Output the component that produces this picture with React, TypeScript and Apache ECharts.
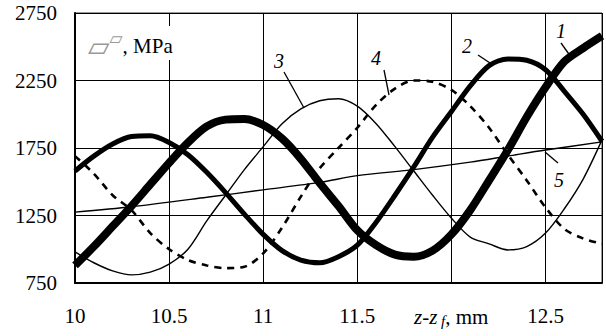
import React, { useEffect, useRef } from "react";
import * as echarts from "echarts";

const xTicksHidden = [12, 12.8];
const curve1: [number, number][] = [
  [10, 880], [10.1, 1020], [10.2, 1170], [10.3, 1320], [10.4, 1480], [10.5, 1640], [10.6, 1790],
  [10.7, 1910], [10.8, 1960], [10.9, 1965], [11.0, 1920], [11.1, 1820], [11.2, 1670], [11.3, 1490],
  [11.4, 1320], [11.5, 1140], [11.6, 1030], [11.7, 960], [11.8, 945], [11.9, 990], [12.0, 1110],
  [12.1, 1290], [12.2, 1510], [12.3, 1735], [12.4, 1980], [12.5, 2200], [12.6, 2390], [12.7, 2490], [12.8, 2580],
];
const curve2: [number, number][] = [
  [10, 1580], [10.1, 1690], [10.2, 1780], [10.3, 1835], [10.4, 1840], [10.5, 1790], [10.6, 1700],
  [10.7, 1570], [10.8, 1420], [10.9, 1260], [11.0, 1110], [11.1, 990], [11.2, 920], [11.3, 900],
  [11.4, 945], [11.5, 1030], [11.6, 1200], [11.7, 1400], [11.8, 1610], [11.9, 1830], [12.0, 2020],
  [12.1, 2210], [12.2, 2360], [12.3, 2410], [12.4, 2400], [12.5, 2330], [12.6, 2170], [12.7, 2000], [12.8, 1800],
];
const curve3: [number, number][] = [
  [10, 980], [10.1, 900], [10.2, 840], [10.3, 810], [10.4, 830], [10.5, 890], [10.6, 1000],
  [10.7, 1210], [10.8, 1400], [10.9, 1590], [11.0, 1760], [11.1, 1930], [11.2, 2040], [11.3, 2100],
  [11.4, 2115], [11.5, 2060], [11.6, 1930], [11.7, 1760], [11.8, 1580], [11.9, 1400], [12.0, 1230],
  [12.1, 1090], [12.2, 1040], [12.3, 995], [12.4, 1020], [12.5, 1120], [12.6, 1300], [12.7, 1520], [12.8, 1810],
];
const curve4: [number, number][] = [
  [10, 1690], [10.1, 1560], [10.2, 1400], [10.3, 1290], [10.4, 1120], [10.5, 1000], [10.6, 920],
  [10.7, 880], [10.8, 860], [10.9, 870], [11.0, 970], [11.1, 1160], [11.2, 1390], [11.3, 1600],
  [11.4, 1750], [11.5, 1900], [11.6, 2070], [11.7, 2190], [11.8, 2250], [11.9, 2240], [12.0, 2180],
  [12.1, 2060], [12.2, 1900], [12.3, 1700], [12.4, 1510], [12.5, 1310], [12.6, 1150], [12.7, 1080], [12.8, 1040],
];
const curve5: [number, number][] = [
  [10, 1275], [10.3, 1315], [10.7, 1385], [11.0, 1440], [11.3, 1495], [11.5, 1545], [11.8, 1590],
  [12.1, 1645], [12.3, 1690], [12.5, 1735], [12.8, 1795],
];
const curveNames = ["1", "2", "3", "4", "5"];

const serif = "Liberation Serif";

export default function App() {
  const ref = useRef<HTMLDivElement>(null);
  useEffect(() => {
    document.body.style.margin = "0";
    if (!ref.current) return;
    const chart = echarts.init(ref.current, undefined, { renderer: "svg" });
    const line = (name: string, data: [number, number][], width: number, type: any = "solid") => ({
      name,
      type: "line",
      data,
      showSymbol: false,
      smooth: 0.3,
      lineStyle: { color: "#000", width, type },
      z: 3,
    });
    const labelText = (t: string, x: number, y: number) => ({
      type: "text",
      x,
      y,
      style: { text: t, fontFamily: serif, fontStyle: "italic", fontSize: 20, fill: "#000", align: "center", verticalAlign: "middle" },
      z: 10,
    });
    const leader = (x1: number, y1: number, x2: number, y2: number) => ({
      type: "line",
      shape: { x1, y1, x2, y2 },
      style: { stroke: "#000", lineWidth: 1.3 },
      z: 10,
    });
    chart.setOption({
      animation: false,
      grid: { left: 75, top: 13, right: 4, bottom: 53, show: true, borderColor: "#333", borderWidth: 1 },
      xAxis: {
        type: "value",
        min: 10,
        max: 12.8,
        interval: 0.5,
        axisLine: { show: true, lineStyle: { color: "#000", width: 2 } },
        axisTick: { show: false },
        splitLine: { show: true, lineStyle: { color: "#000", width: 1 } },
        axisLabel: {
          color: "#000",
          fontFamily: serif,
          fontSize: 21,
          margin: 22,
          formatter: (v: number) => (xTicksHidden.some((h) => Math.abs(h - v) < 1e-6) ? "" : String(v)),
        },
      },
      yAxis: {
        type: "value",
        min: 750,
        max: 2750,
        interval: 500,
        axisLine: { show: true, lineStyle: { color: "#000", width: 2 } },
        axisTick: { show: false },
        splitLine: { show: true, lineStyle: { color: "#000", width: 1 } },
        axisLabel: { color: "#000", fontFamily: serif, fontSize: 21, margin: 18, formatter: (v: number) => String(v) },
      },
      series: [
        line(curveNames[0], curve1, 8),
        line(curveNames[1], curve2, 5),
        line(curveNames[2], curve3, 1.4),
        line(curveNames[3], curve4, 2.6, [7, 6]),
        line(curveNames[4], curve5, 1.4),
      ],
      graphic: [
        { type: "rect", shape: { x: 88, y: 26, width: 88, height: 34 }, style: { fill: "#fff" }, z: 5 },
        {
          type: "text",
          x: 88,
          y: 46,
          style: {
            text: "{a|▱}{b|▱}{c|, MPa}",
            verticalAlign: "middle",
            rich: {
              a: { fontFamily: "DejaVu Sans", fontSize: 28, fill: "#999" },
              b: { fontFamily: "DejaVu Sans", fontSize: 17, fill: "#999", padding: [0, 0, 16, 0] },
              c: { fontFamily: serif, fontSize: 21, fill: "#000" },
            },
          },
          z: 10,
        },
        {
          type: "text",
          x: 414,
          y: 317,
          style: {
            text: "{i|z-z}{s| f}{n|, mm}",
            verticalAlign: "middle",
            rich: {
              i: { fontFamily: serif, fontStyle: "italic", fontSize: 21, fill: "#000" },
              s: { fontFamily: serif, fontStyle: "italic", fontSize: 15, fill: "#000", padding: [8, 0, 0, 0] },
              n: { fontFamily: serif, fontSize: 21, fill: "#000" },
            },
          },
          z: 10,
        },
        labelText("1", 561, 31),
        leader(561, 43, 571, 57),
        labelText("2", 467, 46),
        leader(478, 55, 493, 65),
        labelText("3", 279, 61),
        leader(284, 72, 304, 108),
        labelText("4", 376, 58),
        leader(384, 70, 389, 95),
        labelText("5", 559, 180),
        leader(545, 152, 558, 163),
      ],
    });
    return () => chart.dispose();
  }, []);
  return <div ref={ref} style={{ width: 606, height: 336 }} />;
}
